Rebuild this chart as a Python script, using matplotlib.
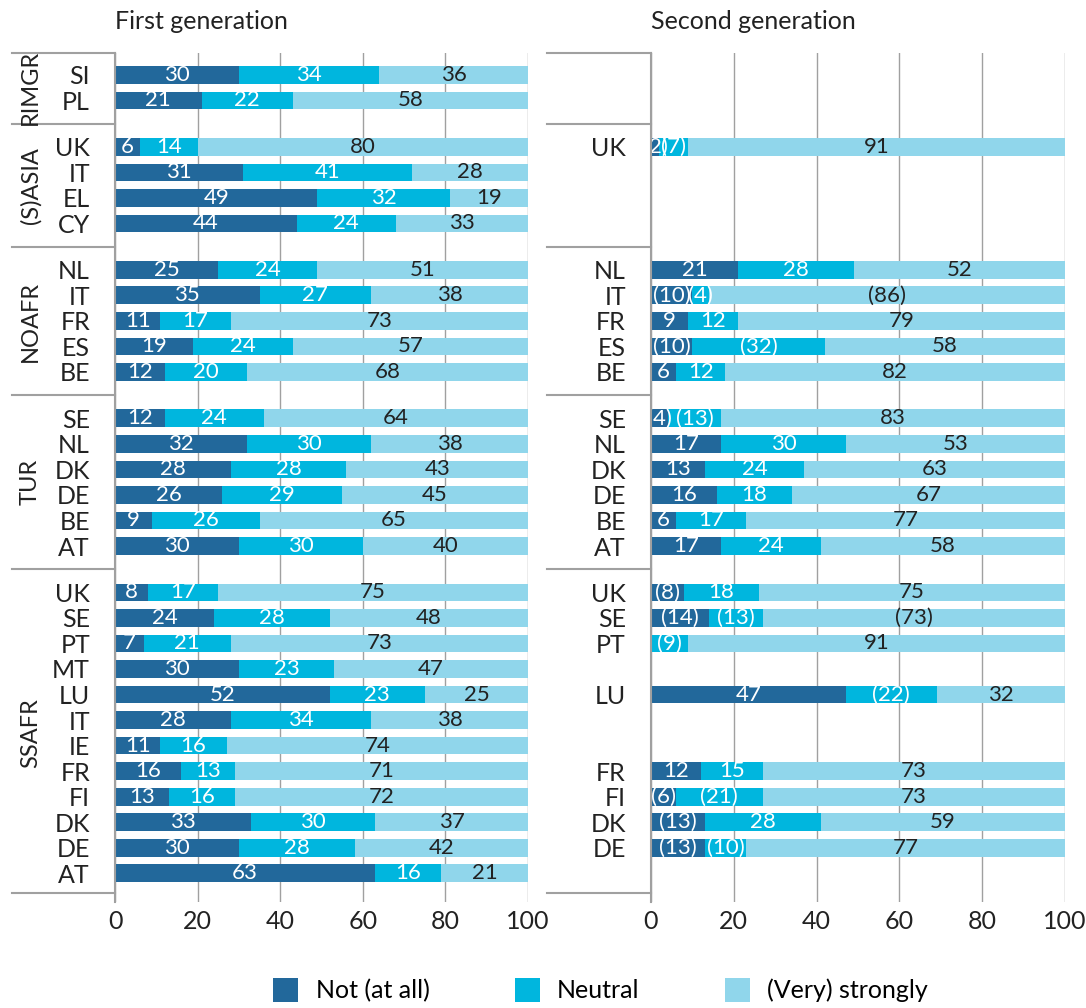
import matplotlib.pyplot as plt
from matplotlib.patches import Patch
import numpy as np

plt.rcParams["font.family"] = ["Lato", "DejaVu Sans"]

groups = ["RIMGR", "(S)ASIA", "NOAFR", "TUR", "SSAFR"]
group_countries = [
    ["SI", "PL"],
    ["UK", "IT", "EL", "CY"],
    ["NL", "IT", "FR", "ES", "BE"],
    ["SE", "NL", "DK", "DE", "BE", "AT"],
    ["UK", "SE", "PT", "MT", "LU", "IT", "IE", "FR", "FI", "DK", "DE", "AT"],
]

# first generation, rows in top-to-bottom order
first_not = [30, 21, 6, 31, 49, 44, 25, 35, 11, 19, 12, 12, 32, 28, 26, 9, 30,
             8, 24, 7, 30, 52, 28, 11, 16, 13, 33, 30, 63]
first_neutral = [34, 22, 14, 41, 32, 24, 24, 27, 17, 24, 20, 24, 30, 28, 29, 26, 30,
                 17, 28, 21, 23, 23, 34, 16, 13, 16, 30, 28, 16]
first_strong = [36, 58, 80, 28, 19, 33, 51, 38, 73, 57, 68, 64, 38, 43, 45, 65, 40,
                75, 48, 73, 47, 25, 38, 74, 71, 72, 37, 42, 21]

# second generation (nan = no data)
nan = np.nan
second_not = [nan, nan, 2, nan, nan, nan, 21, 10, 9, 10, 6, 4, 17, 13, 16, 6, 17,
              8, 14, 0, nan, 47, nan, nan, 12, 6, 13, 13, nan]
second_neutral = [nan, nan, 7, nan, nan, nan, 28, 4, 12, 32, 12, 13, 30, 24, 18, 17, 24,
                  18, 13, 9, nan, 22, nan, nan, 15, 21, 28, 10, nan]
second_strong = [nan, nan, 91, nan, nan, nan, 52, 86, 79, 58, 82, 83, 53, 63, 67, 77, 58,
                 75, 73, 91, nan, 32, nan, nan, 73, 73, 59, 77, nan]
# values shown in brackets (low reliability): row index -> (not, neutral, strong)
second_brackets = {
    2: (1, 1, 0), 7: (1, 1, 1), 9: (1, 1, 0), 11: (1, 1, 0),
    17: (1, 0, 0), 18: (1, 1, 1), 19: (0, 1, 0), 21: (0, 1, 0),
    25: (1, 1, 0), 26: (1, 0, 0), 27: (1, 1, 0),
}

series_names = ["Not (at all)", "Neutral", "(Very) strongly"]
colors = ["#22689b", "#00b6de", "#90d6eb"]
text_colors = ["white", "white", "#222222"]

# y positions with a gap between groups
gap = 0.82
ypos, labels, bounds, centers = [], [], [], []
y = 0.0
for gi, cs in enumerate(group_countries):
    start = y
    for c in cs:
        ypos.append(y)
        labels.append(c)
        y += 1
    end = y - 1
    centers.append((start + end) / 2)
    bounds.append((start, end))
    y += gap
ypos = np.array(ypos)
seps = [bounds[0][0] - 0.86] + [(bounds[i][1] + bounds[i + 1][0]) / 2 for i in range(len(bounds) - 1)] + [bounds[-1][1] + 0.78]
y_top = bounds[0][0] - 0.86
y_bot = bounds[-1][1] + 1.13

fig = plt.figure(figsize=(10.86, 10.08), dpi=100)
ax1 = fig.add_axes([0.1059, 0.1052, 0.3803, 0.8422])
ax2 = fig.add_axes([0.5994, 0.1052, 0.3812, 0.8422])


def draw(ax, data, brackets, title):
    vals = np.array(data, dtype=float)
    keep = ~np.isnan(vals[0])
    left = np.zeros(len(ypos))
    for k in range(3):
        v = np.nan_to_num(vals[k])
        # rounded shares: last segment fills up to 100
        w = 100 - left if k == 2 else v
        ax.barh(ypos[keep], w[keep], left=left[keep], height=0.7, color=colors[k],
                linewidth=0, zorder=3)
        for i in np.where(keep)[0]:
            if v[i] <= 0:
                continue
            txt = "%d" % v[i]
            if brackets.get(i, (0, 0, 0))[k]:
                txt = "(" + txt + ")"
            ax.text(left[i] + w[i] / 2, ypos[i], txt, ha="center", va="center",
                    color=text_colors[k], fontsize=16, zorder=4)
        left = left + w
    ax.set_xlim(0, 100)
    ax.set_ylim(y_bot, y_top)
    ax.set_yticks(ypos[keep])
    ax.set_yticklabels(np.array(labels)[keep], fontsize=18, color="#222222")
    ax.set_xticks([0, 20, 40, 60, 80, 100])
    ax.tick_params(axis="both", length=0, labelsize=18, colors="#222222")
    ax.tick_params(axis="y", pad=18)
    ax.tick_params(axis="x", pad=6)
    ax.grid(axis="x", color="#a0a0a0", linewidth=1.0, zorder=0)
    for s in ["top", "right", "bottom"]:
        ax.spines[s].set_visible(False)
    ax.spines["left"].set_color("#a0a0a0")
    ax.spines["left"].set_linewidth(1.5)
    ax.spines["left"].set_zorder(5)
    tr = ax.get_yaxis_transform()
    for s in seps:
        ax.plot([-0.25, 0], [s, s], transform=tr, color="#a0a0a0", lw=1.5,
                clip_on=False)
    ax.text(0, 1.037, title, transform=ax.transAxes, ha="left", va="center",
            fontsize=18, color="#222222")


draw(ax1, [first_not, first_neutral, first_strong], {}, "First generation")
draw(ax2, [second_not, second_neutral, second_strong], second_brackets, "Second generation")

tr = ax1.get_yaxis_transform()
for g, c in zip(groups, centers):
    ax1.text(-0.205, c, g, transform=tr, rotation=90, ha="center", va="center",
             fontsize=17, color="#222222")

handles = [Patch(facecolor=colors[k], label=series_names[k]) for k in range(3)]
fig.legend(handles=handles, loc="center", bbox_to_anchor=(0.553, 0.018), ncol=3,
           frameon=False, fontsize=18, handlelength=1.0, handleheight=1.1,
           columnspacing=3.4, handletextpad=0.7)

fig.savefig("out.png", dpi=100)
